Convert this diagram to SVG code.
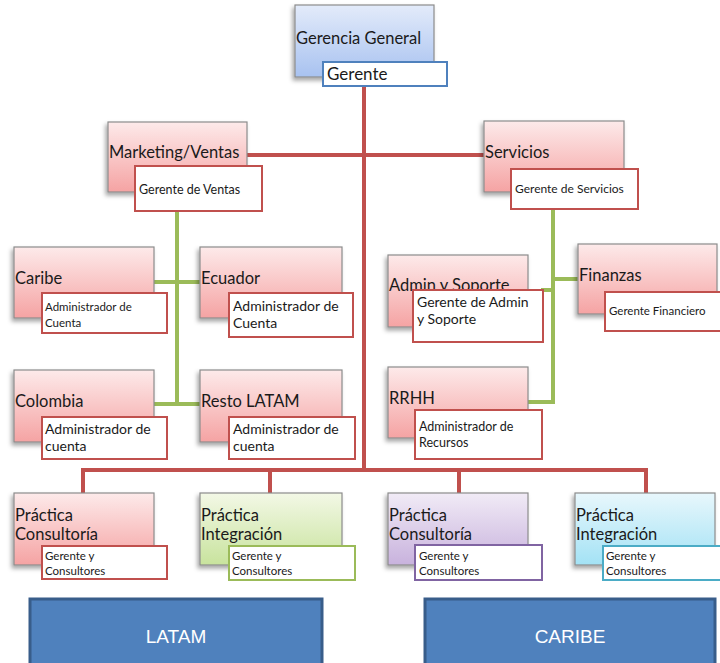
<svg xmlns="http://www.w3.org/2000/svg" width="720" height="663" viewBox="0 0 720 663">
  <defs>
    <linearGradient id="gRed" x1="0" y1="0" x2="0" y2="1">
      <stop offset="0" stop-color="#fdeaea"/>
      <stop offset="1" stop-color="#f5a3a3"/>
    </linearGradient>
    <linearGradient id="gBlue" x1="0" y1="0" x2="0" y2="1">
      <stop offset="0" stop-color="#e3ebfa"/>
      <stop offset="1" stop-color="#a8c2f0"/>
    </linearGradient>
    <linearGradient id="gGreen" x1="0" y1="0" x2="0" y2="1">
      <stop offset="0" stop-color="#f3f8e6"/>
      <stop offset="1" stop-color="#c8e39d"/>
    </linearGradient>
    <linearGradient id="gPurple" x1="0" y1="0" x2="0" y2="1">
      <stop offset="0" stop-color="#f1ebf6"/>
      <stop offset="1" stop-color="#c8b2dd"/>
    </linearGradient>
    <linearGradient id="gCyan" x1="0" y1="0" x2="0" y2="1">
      <stop offset="0" stop-color="#e8f7fc"/>
      <stop offset="1" stop-color="#a3e2f5"/>
    </linearGradient>
    <filter id="shadow" x="-10%" y="-10%" width="125%" height="130%">
      <feDropShadow dx="-2" dy="3" stdDeviation="2" flood-color="#000" flood-opacity="0.35"/>
    </filter>
  </defs>
  <style>
    .box { stroke: #8c8c8c; stroke-width: 1.2; filter: url(#shadow); }
    .red { fill: url(#gRed); }
    .blue { fill: url(#gBlue); }
    .green { fill: url(#gGreen); }
    .purple { fill: url(#gPurple); }
    .cyan { fill: url(#gCyan); }
    .sub { fill: #ffffff; stroke-width: 2; }
    .sr { stroke: #c0504d; }
    .sb { stroke: #4f81bd; }
    .sg { stroke: #9bbb59; }
    .sp { stroke: #8064a2; }
    .sc { stroke: #4bacc6; }
    .t { font-family: Lato, "Open Sans", sans-serif; fill: #1a1a1a; }
    .h { font-size: 16.5px; }
    .m { font-size: 14px; }
    .s { font-size: 12.5px; }
    .xs { font-size: 11.5px; }
    .red-line { stroke: #c0504d; stroke-width: 4; fill: none; }
    .green-line { stroke: #9bbb59; stroke-width: 4; fill: none; }
    .region { fill: #4f81bd; stroke: #385d8a; stroke-width: 3; }
    .rt { font-family: "Liberation Sans", Arial, sans-serif; font-size: 19px; fill: #ffffff; }
  </style>

  <rect width="720" height="663" fill="#ffffff"/>

  <!-- connectors -->
  <g id="connectors">
    <path class="red-line" d="M364 86 V470"/>
    <path class="red-line" d="M247 155 H484"/>
    <path class="red-line" d="M83 493 V470 H646 V493"/>
    <path class="red-line" d="M270 470 V493"/>
    <path class="red-line" d="M459 470 V493"/>
    <path class="green-line" d="M177 211 V404"/>
    <path class="green-line" d="M154 282 H200"/>
    <path class="green-line" d="M154 404 H200"/>
    <path class="green-line" d="M553 209 V402 H528"/>
    <path class="green-line" d="M541 290 H553"/>
    <path class="green-line" d="M553 279 H578"/>
  </g>

  <!-- top -->
  <g id="gerencia">
    <rect class="box blue" x="295" y="5" width="139" height="72"/>
    <text class="t h" x="296" y="44">Gerencia General</text>
    <rect class="sub sb" x="323" y="62" width="124" height="24"/>
    <text class="t" x="327" y="80" font-size="17">Gerente</text>
  </g>

  <g id="marketing">
    <rect class="box red" x="108" y="122" width="139" height="70"/>
    <text class="t h" x="109" y="158">Marketing/Ventas</text>
    <rect class="sub sr" x="135" y="166" width="127" height="45"/>
    <text class="t s" x="139" y="194">Gerente de Ventas</text>
  </g>

  <g id="servicios">
    <rect class="box red" x="484" y="121" width="140" height="71"/>
    <text class="t h" x="485" y="158">Servicios</text>
    <rect class="sub sr" x="511" y="169" width="127" height="40"/>
    <text class="t" x="515" y="193" font-size="12">Gerente de Servicios</text>
  </g>

  <!-- LATAM accounts -->
  <g id="caribe">
    <rect class="box red" x="14" y="247" width="140" height="71"/>
    <text class="t h" x="15" y="284">Caribe</text>
    <rect class="sub sr" x="42" y="293" width="125" height="40"/>
    <text class="t xs" x="45" y="311">Administrador de</text>
    <text class="t xs" x="45" y="327">Cuenta</text>
  </g>

  <g id="ecuador">
    <rect class="box red" x="200" y="247" width="142" height="71"/>
    <text class="t h" x="201" y="284">Ecuador</text>
    <rect class="sub sr" x="229" y="293" width="124" height="44"/>
    <text class="t m" x="233" y="311">Administrador de</text>
    <text class="t m" x="233" y="328">Cuenta</text>
  </g>

  <g id="colombia">
    <rect class="box red" x="14" y="370" width="140" height="72"/>
    <text class="t h" x="15" y="407">Colombia</text>
    <rect class="sub sr" x="42" y="417" width="125" height="42"/>
    <text class="t m" x="45" y="434">Administrador de</text>
    <text class="t m" x="45" y="451">cuenta</text>
  </g>

  <g id="resto-latam">
    <rect class="box red" x="200" y="370" width="142" height="72"/>
    <text class="t h" x="201" y="407">Resto LATAM</text>
    <rect class="sub sr" x="229" y="417" width="126" height="42"/>
    <text class="t m" x="233" y="434">Administrador de</text>
    <text class="t m" x="233" y="451">cuenta</text>
  </g>

  <!-- services areas -->
  <g id="admin-soporte">
    <rect class="box red" x="388" y="255" width="140" height="72"/>
    <text class="t h" x="389" y="291">Admin y Soporte</text>
    <rect class="sub sr" x="413" y="290" width="130" height="52"/>
    <text class="t m" x="417" y="307">Gerente de Admin</text>
    <text class="t m" x="417" y="324">y Soporte</text>
  </g>

  <g id="finanzas">
    <rect class="box red" x="578" y="244" width="139" height="70"/>
    <text class="t h" x="579" y="281">Finanzas</text>
    <rect class="sub sr" x="605" y="292" width="118" height="39"/>
    <text class="t" x="609" y="315" font-size="11.5">Gerente Financiero</text>
  </g>

  <g id="rrhh">
    <rect class="box red" x="388" y="367" width="140" height="71"/>
    <text class="t h" x="389" y="404">RRHH</text>
    <rect class="sub sr" x="415" y="410" width="127" height="49"/>
    <text class="t s" x="419" y="431">Administrador de</text>
    <text class="t s" x="419" y="447">Recursos</text>
  </g>

  <!-- practices -->
  <g id="practica-consultoria-latam">
    <rect class="box red" x="14" y="493" width="140" height="72"/>
    <text class="t h" x="15" y="521">Práctica</text>
    <text class="t h" x="15" y="540">Consultoría</text>
    <rect class="sub sr" x="42" y="546" width="125" height="33"/>
    <text class="t xs" x="45" y="560">Gerente y</text>
    <text class="t xs" x="45" y="575">Consultores</text>
  </g>

  <g id="practica-integracion-latam">
    <rect class="box green" x="200" y="493" width="142" height="72"/>
    <text class="t h" x="201" y="521">Práctica</text>
    <text class="t h" x="201" y="540">Integración</text>
    <rect class="sub sg" x="229" y="546" width="126" height="34"/>
    <text class="t xs" x="232" y="560">Gerente y</text>
    <text class="t xs" x="232" y="575">Consultores</text>
  </g>

  <g id="practica-consultoria-caribe">
    <rect class="box purple" x="388" y="493" width="140" height="72"/>
    <text class="t h" x="389" y="521">Práctica</text>
    <text class="t h" x="389" y="540">Consultoría</text>
    <rect class="sub sp" x="415" y="545" width="127" height="35"/>
    <text class="t xs" x="419" y="560">Gerente y</text>
    <text class="t xs" x="419" y="575">Consultores</text>
  </g>

  <g id="practica-integracion-caribe">
    <rect class="box cyan" x="575" y="493" width="140" height="72"/>
    <text class="t h" x="576" y="521">Práctica</text>
    <text class="t h" x="576" y="540">Integración</text>
    <rect class="sub sc" x="603" y="546" width="120" height="34"/>
    <text class="t xs" x="606" y="560">Gerente y</text>
    <text class="t xs" x="606" y="575">Consultores</text>
  </g>

  <!-- regions -->
  <g id="latam">
    <rect class="region" x="30" y="599" width="292" height="68"/>
    <text class="rt" x="176" y="643" text-anchor="middle">LATAM</text>
  </g>
  <g id="caribe-region">
    <rect class="region" x="425" y="599" width="290" height="68"/>
    <text class="rt" x="570" y="643" text-anchor="middle">CARIBE</text>
  </g>
</svg>
